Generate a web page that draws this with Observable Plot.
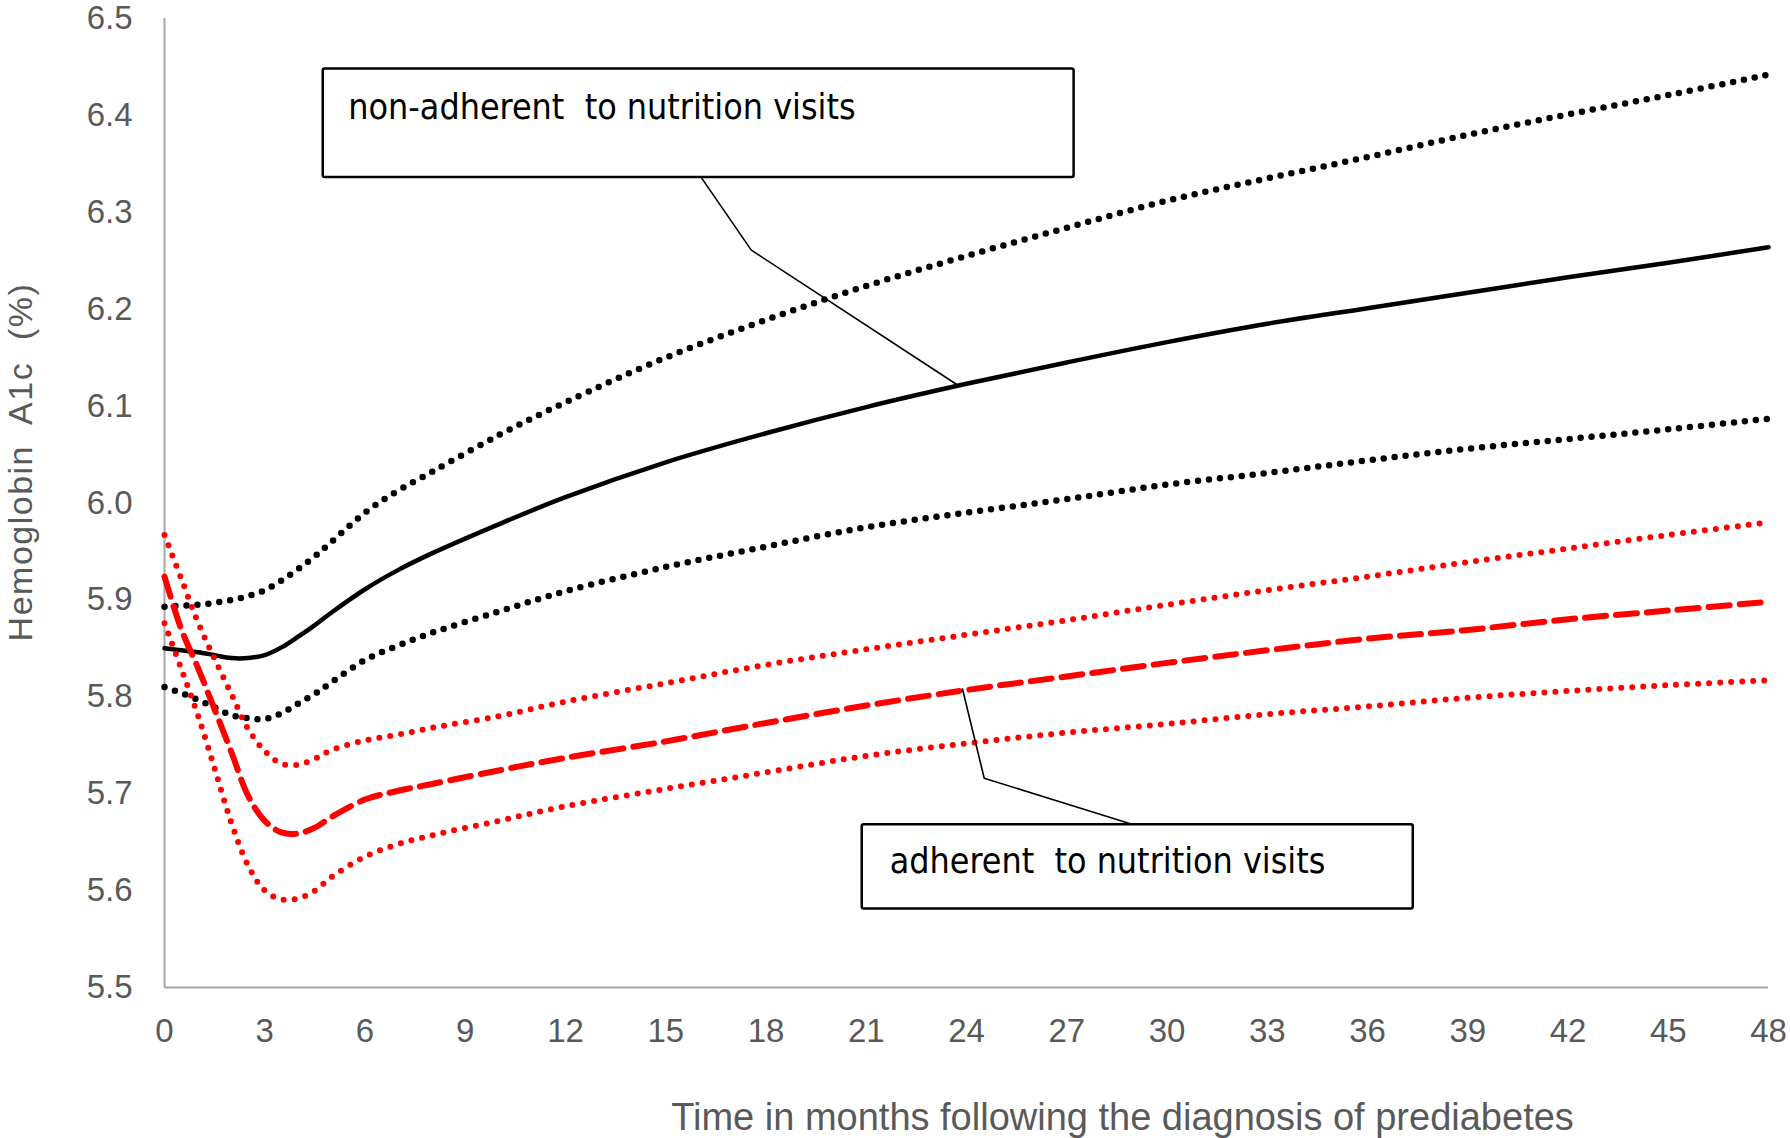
<!DOCTYPE html>
<html><head><meta charset="utf-8">
<script src="https://cdn.jsdelivr.net/npm/d3@7"></script>
<script src="https://cdn.jsdelivr.net/npm/@observablehq/plot@0.6"></script>
<style>
html,body{margin:0;padding:0;background:#fff;}
svg text{white-space:pre;}
</style></head><body><div id="chart"></div>
<script>
// ---- data ----
const months = [0,0.5,1,1.5,2,2.5,3,3.5,4,4.5,5,6,7,8,10,12,15,18,21,24,27,30,33,36,39,42,45,48];

const nonAdherentMean  = [5.850,5.848,5.846,5.843,5.840,5.840,5.843,5.851,5.862,5.874,5.887,5.911,5.931,5.948,5.978,6.006,6.042,6.072,6.099,6.123,6.145,6.166,6.185,6.201,6.217,6.233,6.248,6.264];
const nonAdherentUpper = [5.893,5.894,5.895,5.897,5.900,5.904,5.910,5.920,5.932,5.945,5.960,5.990,6.013,6.032,6.070,6.104,6.150,6.189,6.224,6.255,6.284,6.312,6.335,6.357,6.380,6.401,6.421,6.442];
const nonAdherentLower = [5.810,5.804,5.797,5.789,5.781,5.778,5.777,5.783,5.793,5.803,5.815,5.838,5.853,5.866,5.888,5.909,5.934,5.955,5.975,5.990,6.004,6.019,6.031,6.044,6.056,6.066,6.076,6.087];

const adherentMean  = [5.924,5.870,5.830,5.787,5.743,5.698,5.672,5.660,5.659,5.665,5.676,5.694,5.703,5.710,5.724,5.737,5.754,5.773,5.791,5.807,5.821,5.835,5.848,5.860,5.869,5.880,5.889,5.898];
const adherentUpper = [5.967,5.922,5.877,5.839,5.803,5.767,5.744,5.731,5.730,5.736,5.745,5.755,5.761,5.768,5.780,5.795,5.814,5.833,5.849,5.864,5.879,5.895,5.910,5.924,5.939,5.953,5.967,5.980];
const adherentLower = [5.876,5.829,5.781,5.726,5.670,5.626,5.600,5.591,5.592,5.600,5.614,5.635,5.648,5.657,5.672,5.687,5.705,5.722,5.739,5.752,5.763,5.772,5.782,5.790,5.799,5.806,5.812,5.817];

const xTickValues = [0,3,6,9,12,15,18,21,24,27,30,33,36,39,42,45,48];
const yTickValues = [5.5,5.6,5.7,5.8,5.9,6.0,6.1,6.2,6.3,6.4,6.5];

const xTitle = "Time in months following the diagnosis of prediabetes";
const yTitle = "Hemoglobin  A1c  (%)";

// annotation boxes, labels and leader lines (data coordinates)
const labelTexts = ["non-adherent  to nutrition visits", "adherent  to nutrition visits"];
const boxX1 = [4.75, 20.88];
const boxX2 = [27.22, 37.37];
const boxY1 = [6.336, 5.581];
const boxY2 = [6.448, 5.668];
const labelX = [5.5, 21.7];
const labelY = [6.408, 5.630];
const leaderNonAdherentX = [16.06, 17.56, 23.72];
const leaderNonAdherentY = [6.336, 6.261, 6.122];
const leaderAdherentX = [23.88, 24.53, 29.0];
const leaderAdherentY = [5.808, 5.716, 5.668];

// ---- tables built from the arrays ----
const toRows = vals => months.map((m, i) => ({month: m, value: vals[i]}));
const boxes = boxX1.map((_, i) => ({x1: boxX1[i], x2: boxX2[i], y1: boxY1[i], y2: boxY2[i]}));
const labels = labelTexts.map((t, i) => ({text: t, x: labelX[i], y: labelY[i]}));
const leader1 = leaderNonAdherentX.map((x, i) => ({x, y: leaderNonAdherentY[i]}));
const leader2 = leaderAdherentX.map((x, i) => ({x, y: leaderAdherentY[i]}));

const dotted = {curve: "catmull-rom", strokeDasharray: "0 11", strokeLinecap: "round"};

const chart = Plot.plot({
  width: 1790,
  height: 1138,
  marginLeft: 164,
  marginRight: 22,
  marginTop: 18,
  marginBottom: 151,
  style: {fontFamily: "'Liberation Sans', Arial, sans-serif", background: "#fff"},
  x: {domain: [0, 48]},
  y: {domain: [5.5, 6.5]},
  marks: [
    Plot.axisY(yTickValues, {tickSize: 0, tickPadding: 32, fontSize: 33, fill: "#595959", tickFormat: d3.format(".1f"), label: null}),
    Plot.axisX(xTickValues, {tickSize: 0, tickPadding: 31, fontSize: 33, fill: "#595959", tickFormat: d => String(d), label: null}),
    Plot.ruleY([5.5], {stroke: "#a6a6a6", strokeWidth: 2}),
    Plot.ruleX([0], {stroke: "#a6a6a6", strokeWidth: 2}),
    Plot.text([xTitle], {frameAnchor: "bottom", dx: 156, dy: 130, fontSize: 38, fill: "#595959", textAnchor: "middle", lineAnchor: "middle"}),
    Plot.text([yTitle], {frameAnchor: "left", dx: -143, dy: -41, rotate: -90, fontSize: 34, fill: "#595959", textAnchor: "middle", lineAnchor: "middle"}),

    Plot.line(toRows(nonAdherentUpper), {x: "month", y: "value", stroke: "#000", strokeWidth: 6.5, ...dotted}),
    Plot.line(toRows(nonAdherentLower), {x: "month", y: "value", stroke: "#000", strokeWidth: 6.5, ...dotted}),
    Plot.line(toRows(nonAdherentMean), {x: "month", y: "value", stroke: "#000", strokeWidth: 4.5, curve: "catmull-rom"}),
    Plot.line(toRows(adherentUpper), {x: "month", y: "value", stroke: "#ff0000", strokeWidth: 6, ...dotted}),
    Plot.line(toRows(adherentLower), {x: "month", y: "value", stroke: "#ff0000", strokeWidth: 6, ...dotted}),
    Plot.line(toRows(adherentMean), {x: "month", y: "value", stroke: "#ff0000", strokeWidth: 6, strokeDasharray: "21 10", curve: "catmull-rom"}),

    Plot.line(leader1, {x: "x", y: "y", stroke: "#000", strokeWidth: 1.6}),
    Plot.line(leader2, {x: "x", y: "y", stroke: "#000", strokeWidth: 1.6}),
    Plot.rect(boxes, {x1: "x1", x2: "x2", y1: "y1", y2: "y2", fill: "#fff", stroke: "#000", strokeWidth: 2.5, rx: 2}),
    Plot.text(labels, {x: "x", y: "y", text: "text", textAnchor: "start", lineAnchor: "middle", fontSize: 35.5, fill: "#000",
      fontFamily: "'Liberation Sans Narrow', 'DejaVu Sans Condensed', sans-serif"})
  ]
});
d3.select(chart).selectAll("text")
  .filter(function() { return this.textContent === yTitle; })
  .style("letter-spacing", "1.5px");
document.getElementById("chart").appendChild(chart);
</script>
</body></html>
